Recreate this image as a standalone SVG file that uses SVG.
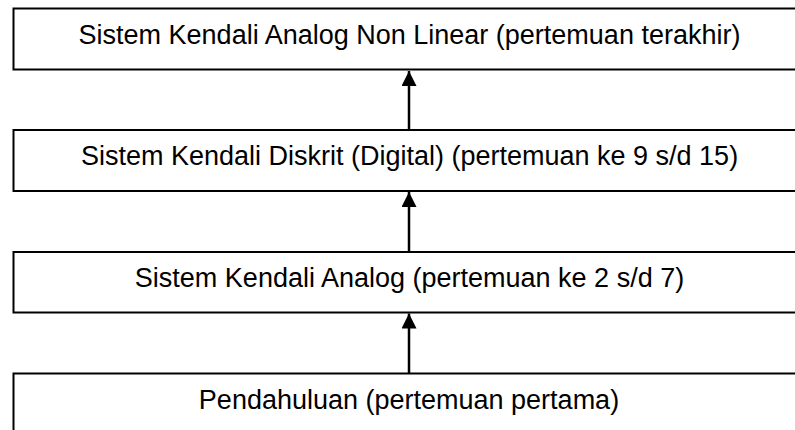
<svg xmlns="http://www.w3.org/2000/svg" width="795" height="430" viewBox="0 0 795 430">
<defs>
<style>
.box{fill:#fff;stroke:#000;stroke-width:2}
.lbl{font-family:"Liberation Sans",Arial,sans-serif;font-size:27px;fill:#000;text-anchor:middle}
.conn{stroke:#000;stroke-width:2.5;fill:none}
</style>
<marker id="ah" markerWidth="6" markerHeight="6" refX="6" refY="3" orient="auto" markerUnits="strokeWidth" viewBox="0 0 6 6"><path d="M0,0 L6,3 L0,6 z" fill="#000"/></marker>
</defs>
<g id="n1"><rect class="box" x="13.5" y="8.5" width="790" height="61"/><text class="lbl" x="409.5" y="43.5">Sistem Kendali Analog Non Linear (pertemuan terakhir)</text></g>
<g id="n2"><rect class="box" x="13.5" y="130" width="790" height="61"/><text class="lbl" x="409.5" y="165">Sistem Kendali Diskrit (Digital) (pertemuan ke 9 s/d 15)</text></g>
<g id="n3"><rect class="box" x="13.5" y="252" width="790" height="60.5"/><text class="lbl" x="409.5" y="287">Sistem Kendali Analog (pertemuan ke 2 s/d 7)</text></g>
<g id="n4"><rect class="box" x="13.5" y="373.5" width="790" height="70"/><text class="lbl" x="409" y="409">Pendahuluan (pertemuan pertama)</text></g>
<g id="connectors">
<line class="conn" x1="409" y1="130" x2="409" y2="71" marker-end="url(#ah)"/>
<line class="conn" x1="409" y1="252" x2="409" y2="192" marker-end="url(#ah)"/>
<line class="conn" x1="409" y1="373.5" x2="409" y2="313.5" marker-end="url(#ah)"/>
</g>
</svg>
